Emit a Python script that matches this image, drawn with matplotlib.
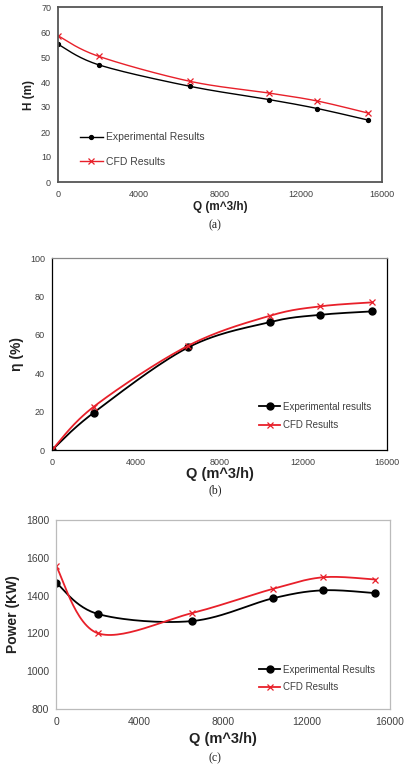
import numpy as np
import matplotlib
matplotlib.use("Agg")
import matplotlib.pyplot as plt
from matplotlib.lines import Line2D

# ---------------- data ----------------
q_a = [0, 2000, 6500, 10400, 12800, 15300]
h_exp = [55.1, 46.9, 38.3, 33.0, 29.4, 24.8]
h_cfd = [58.5, 50.3, 40.3, 35.6, 32.4, 27.6]

q_b = [0, 2000, 6500, 10400, 12800, 15300]
eff_exp = [0.0, 19.5, 53.4, 66.6, 70.4, 72.2]
eff_cfd = [0.0, 22.6, 54.3, 69.9, 74.8, 76.9]

q_c = [0, 2000, 6500, 10400, 12800, 15300]
pow_exp = [1469, 1303, 1265, 1386, 1428, 1413]
pow_cfd = [1557, 1201, 1307, 1436, 1497, 1485]

x_ticks = [0, 4000, 8000, 12000, 16000]
ya_ticks = list(range(0, 71, 10))
yb_ticks = list(range(0, 101, 20))
yc_ticks = list(range(800, 1801, 200))

label_exp_a = "Experimental Results"
label_exp_b = "Experimental results"
label_exp_c = "Experimental Results"
label_cfd = "CFD Results"


def smooth(x, y, n=30):
    """Excel-like smoothed line (Catmull-Rom via cubic Bezier)."""
    x = np.asarray(x, float)
    y = np.asarray(y, float)
    px = np.concatenate([[x[0]], x, [x[-1]]])
    py = np.concatenate([[y[0]], y, [y[-1]]])
    xs, ys = [], []
    t = np.linspace(0, 1, n)
    for i in range(1, len(px) - 2):
        p0 = np.array([px[i], py[i]])
        p3 = np.array([px[i + 1], py[i + 1]])
        p1 = p0 + (np.array([px[i + 1], py[i + 1]]) - np.array([px[i - 1], py[i - 1]])) / 6
        p2 = p3 - (np.array([px[i + 2], py[i + 2]]) - np.array([px[i], py[i]])) / 6
        b = ((1 - t) ** 3)[:, None] * p0 + (3 * (1 - t) ** 2 * t)[:, None] * p1 \
            + (3 * (1 - t) * t ** 2)[:, None] * p2 + (t ** 3)[:, None] * p3
        xs.extend(b[:, 0])
        ys.extend(b[:, 1])
    return np.array(xs), np.array(ys)


plt.rcParams['font.family'] = ['Liberation Sans', 'DejaVu Sans']

W, H = 409, 765
fig = plt.figure(figsize=(W / 100, H / 100), dpi=100)


def rect(l, r, t, b):
    return [l / W, 1 - b / H, (r - l) / W, (b - t) / H]


tick_col = '#404040'
red = '#e8202a'


def draw(ax, q, ye, yc, yticks, ylim, ylabel, le, legpos, msize_e, msize_c, lw,
         tick_fs, spine_cols, spine_lw, lab_fs, leg_fs, leg_space, xpad):
    xe, ye_s = smooth(q, ye)
    xc, yc_s = smooth(q, yc)
    ax.plot(xe, ye_s, color='black', lw=lw)
    ax.plot(q, ye, 'o', color='black', ms=msize_e)
    ax.plot(xc, yc_s, color=red, lw=lw)
    ax.plot(q, yc, 'x', color=red, ms=msize_c, mew=0.9)
    ax.set_xlim(0, 16000)
    ax.set_ylim(*ylim)
    ax.set_xticks(x_ticks)
    ax.set_yticks(yticks)
    ax.tick_params(length=0, labelsize=tick_fs, colors=tick_col)
    ax.tick_params(axis='x', pad=xpad)
    ax.tick_params(axis='y', pad=5)
    for s, c in zip(['left', 'right', 'top', 'bottom'], spine_cols):
        ax.spines[s].set_color(c)
        ax.spines[s].set_linewidth(spine_lw)
    ax.set_ylabel(ylabel, fontsize=lab_fs, fontweight='bold', color='#222222', labelpad=4)
    h1 = Line2D([], [], color='black', lw=lw, marker='o', ms=msize_e)
    h2 = Line2D([], [], color=red, lw=lw, marker='x', ms=msize_c, mew=0.9)
    ax.legend([h1, h2], [le, label_cfd], loc='center left', bbox_to_anchor=legpos,
              frameon=False, fontsize=leg_fs, handlelength=2.2, handletextpad=0.3,
              borderpad=0, borderaxespad=0, labelspacing=leg_space,
              labelcolor='#404040', markerscale=1.0)


# (a)
ax_a = fig.add_axes(rect(58, 382, 7, 182))
draw(ax_a, q_a, h_exp, h_cfd, ya_ticks, (0, 70), "H (m)", label_exp_a, (0.068, 0.186),
     2.8, 4.5, 1.0, 6.5, ['#555555'] * 4, 1.3, 8.5, 7.5, 1.4, 6)
ax_a.set_xlabel("Q (m^3/h)", fontsize=8.5, fontweight='bold', color='#222222', labelpad=1)

# (b)
ax_b = fig.add_axes(rect(52, 387, 258, 450))
draw(ax_b, q_b, eff_exp, eff_cfd, yb_ticks, (0, 100), "η (%)", label_exp_b, (0.618, 0.177),
     5, 5, 1.3, 6.5, ['black', 'black', '#888888', 'black'], 0.9, 10, 7, 0.9, 6)
ax_b.set_xlabel("Q (m^3/h)", fontsize=10.5, fontweight='bold', color='#222222', labelpad=0)

# (c)
ax_c = fig.add_axes(rect(56, 390, 520, 709))
draw(ax_c, q_c, pow_exp, pow_cfd, yc_ticks, (800, 1800), "Power (KW)", label_exp_c, (0.608, 0.161),
     5, 5, 1.3, 7.5, ['#bbbbbb'] * 4, 0.9, 10, 7, 0.8, 6)
ax_c.set_xlabel("Q (m^3/h)", fontsize=10.5, fontweight='bold', color='#222222', labelpad=3)

# captions
cap_kw = dict(ha='center', va='center', fontsize=8.5, family=['Liberation Serif', 'DejaVu Serif'], color='#222222')
fig.text(215 / W, 1 - 225 / H, "(a)", **cap_kw)
fig.text(215 / W, 1 - 490 / H, "(b)", **cap_kw)
fig.text(215 / W, 1 - 758 / H, "(c)", **cap_kw)

fig.savefig("out.png", dpi=100, facecolor='white')
